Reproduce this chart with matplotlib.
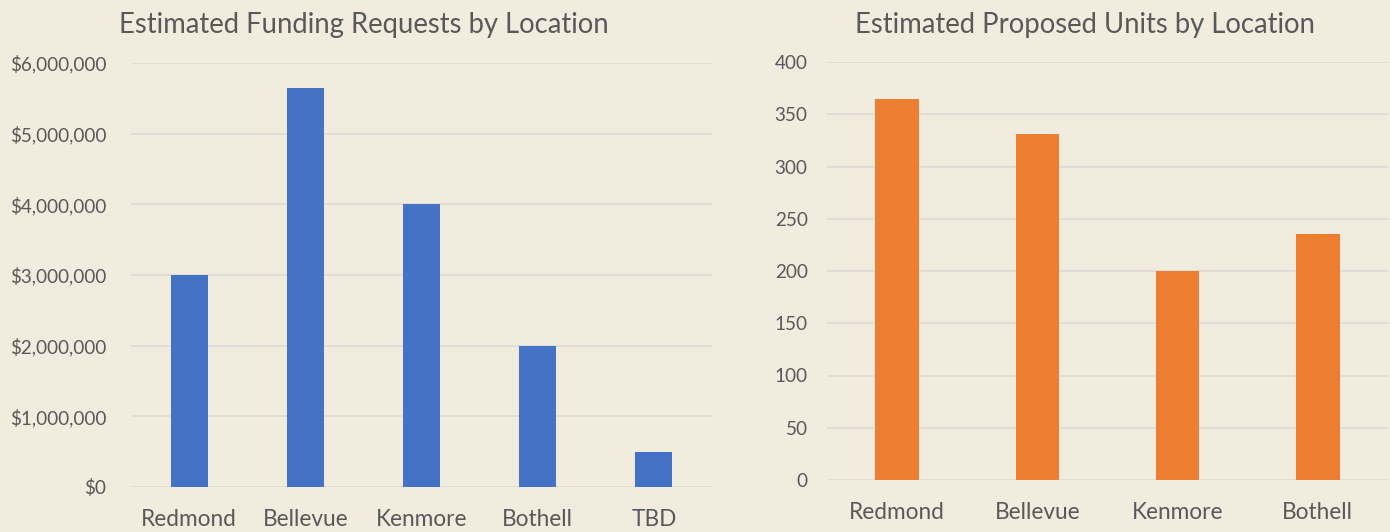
import matplotlib

matplotlib.use("Agg")
import matplotlib.pyplot as plt
from matplotlib.ticker import FuncFormatter

funding_locations = ["Redmond", "Bellevue", "Kenmore", "Bothell", "TBD"]
funding_values = [3000000, 5650000, 4000000, 2000000, 500000]
units_locations = ["Redmond", "Bellevue", "Kenmore", "Bothell"]
units_values = [365, 331, 200, 235]

BG = "#F2ECDF"
TEXT = "#595959"
GRID = "#DCDAD3"
plt.rcParams["font.family"] = ["Lato", "DejaVu Sans"]

W, H = 1390, 532
fig = plt.figure(figsize=(W / 100, H / 100), dpi=100, facecolor=BG)
ax1 = fig.add_axes([131 / W, 45 / H, 581 / W, 424 / H])
ax2 = fig.add_axes([827 / W, 52 / H, 561 / W, 418 / H])


def style(ax, ypad):
    ax.set_facecolor(BG)
    for s in ax.spines.values():
        s.set_visible(False)
    ax.grid(axis="y", color=GRID, lw=1.2)
    ax.set_axisbelow(True)
    ax.tick_params(length=0, colors=TEXT)
    ax.tick_params(axis="y", labelsize=13.6, pad=ypad)
    ax.tick_params(axis="x", labelsize=16.3, pad=15.5)


ax1.bar(funding_locations, funding_values, width=0.32, color="#4472C4")
ax1.set_ylim(0, 6000000)
ax1.set_yticks(range(0, 6000001, 1000000))
ax1.yaxis.set_major_formatter(FuncFormatter(lambda v, p: f"${v:,.0f}"))
ax1.set_xlim(-0.5, len(funding_locations) - 0.5)
style(ax1, 18)
fig.text(364 / W, 1 - 33 / H, "Estimated Funding Requests by Location",
         fontsize=19.8, color=TEXT, ha="center", va="baseline")

ax2.bar(units_locations, units_values, width=0.31, color="#ED7D31")
ax2.set_ylim(0, 400)
ax2.set_yticks(range(0, 401, 50))
ax2.set_xlim(-0.5, len(units_locations) - 0.5)
style(ax2, 14)
fig.text(1085 / W, 1 - 33 / H, "Estimated Proposed Units by Location",
         fontsize=19.8, color=TEXT, ha="center", va="baseline")

fig.savefig("out.png", facecolor=BG)
